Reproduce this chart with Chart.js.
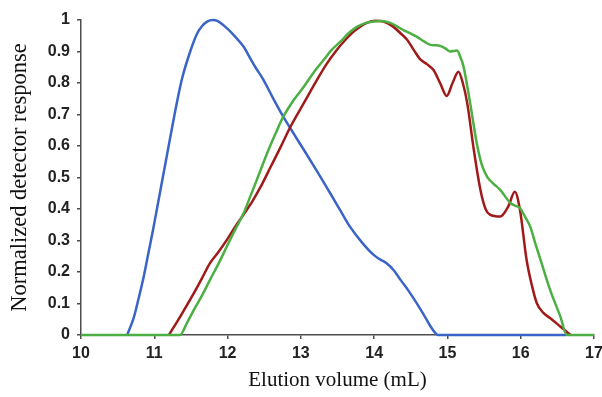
<!DOCTYPE html>
<html>
<head>
<meta charset="utf-8">
<script src="https://cdn.jsdelivr.net/npm/chart.js@4/dist/chart.umd.min.js"></script>
<style>
  body { margin: 0; background: #fff; }
</style>
</head>
<body>
<canvas id="myChart" width="602" height="397"></canvas>
<script>
// elution volume (mL) / normalized response
var blueX = [10.63, 10.72, 10.79, 10.86, 10.92, 10.98, 11.04, 11.10, 11.16, 11.22, 11.31, 11.38, 11.49, 11.58, 11.65, 11.72, 11.80, 11.86, 11.99, 12.10, 12.22, 12.31, 12.38, 12.49, 12.62, 12.76, 12.90, 13.04, 13.22, 13.40, 13.54, 13.67, 13.83, 13.99, 14.08, 14.17, 14.27, 14.36, 14.47, 14.58, 14.68, 14.77, 14.84, 14.87, 16.62];
var blueY = [0, 0.055, 0.12, 0.19, 0.26, 0.33, 0.405, 0.48, 0.555, 0.63, 0.74, 0.815, 0.9, 0.955, 0.98, 0.995, 1.0, 0.997, 0.974, 0.948, 0.915, 0.878, 0.85, 0.81, 0.752, 0.693, 0.64, 0.588, 0.52, 0.45, 0.395, 0.344, 0.295, 0.255, 0.24, 0.228, 0.205, 0.175, 0.14, 0.101, 0.063, 0.027, 0.005, 0, 0];

var redX = [11.20, 11.37, 11.54, 11.65, 11.76, 11.88, 11.99, 12.10, 12.22, 12.34, 12.45, 12.58, 12.72, 12.86, 13.04, 13.22, 13.35, 13.49, 13.60, 13.72, 13.90, 14.02, 14.13, 14.26, 14.36, 14.45, 14.54, 14.63, 14.72, 14.81, 14.90, 14.99, 15.07, 15.15, 15.21, 15.27, 15.36, 15.45, 15.52, 15.58, 15.72, 15.83, 15.92, 15.99, 16.08, 16.15, 16.22, 16.31, 16.40, 16.54, 16.68];
var redY = [0, 0.065, 0.133, 0.18, 0.228, 0.265, 0.302, 0.342, 0.383, 0.425, 0.47, 0.53, 0.595, 0.662, 0.736, 0.81, 0.86, 0.905, 0.935, 0.963, 0.991, 0.998, 0.995, 0.979, 0.958, 0.937, 0.905, 0.875, 0.86, 0.841, 0.80, 0.759, 0.80, 0.836, 0.80, 0.736, 0.588, 0.461, 0.40, 0.382, 0.376, 0.408, 0.455, 0.397, 0.239, 0.16, 0.101, 0.07, 0.054, 0.027, 0];

var greenX = [10.0, 11.35, 11.45, 11.54, 11.65, 11.76, 11.88, 11.99, 12.10, 12.22, 12.31, 12.40, 12.54, 12.65, 12.76, 12.90, 13.04, 13.17, 13.31, 13.42, 13.54, 13.65, 13.77, 13.88, 13.99, 14.10, 14.22, 14.31, 14.40, 14.49, 14.58, 14.68, 14.77, 14.84, 14.90, 14.97, 15.04, 15.13, 15.18, 15.22, 15.31, 15.40, 15.47, 15.54, 15.63, 15.72, 15.86, 15.93, 15.99, 16.06, 16.13, 16.20, 16.27, 16.40, 16.54, 16.63, 17.0];
var greenY = [0, 0, 0.04, 0.08, 0.125, 0.175, 0.228, 0.281, 0.333, 0.387, 0.44, 0.493, 0.577, 0.637, 0.693, 0.745, 0.788, 0.832, 0.873, 0.905, 0.931, 0.958, 0.979, 0.99, 0.995, 0.997, 0.991, 0.98, 0.968, 0.958, 0.947, 0.932, 0.921, 0.92, 0.918, 0.91, 0.90, 0.903, 0.88, 0.852, 0.736, 0.609, 0.54, 0.503, 0.48, 0.461, 0.419, 0.41, 0.403, 0.375, 0.344, 0.29, 0.239, 0.144, 0.059, 0, 0];

var xTitle = 'Elution volume (mL)';
var yTitle = 'Normalized detector response';

function pts(xs, ys) {
  return xs.map(function (x, i) { return { x: x, y: ys[i] }; });
}

var axisColor = '#4d4d4d';
var tickFont = { family: 'Liberation Sans, Arial', size: 16, weight: 'bold' };

var ctx = document.getElementById('myChart');

var myChart = new Chart(ctx, {
  type: 'line',
  data: {
    datasets: [{
      data: pts(greenX, greenY),
      borderColor: '#4caf43',
      order: 0
    }, {
      data: pts(redX, redY),
      borderColor: '#a01a1a',
      order: 1
    }, {
      data: pts(blueX, blueY),
      borderColor: '#3a64c6',
      order: 2
    }]
  },
  options: {
    responsive: false,
    animation: false,
    layout: { padding: { top: 20, right: 8, left: 0, bottom: 0 } },
    elements: {
      point: { radius: 0 },
      line: { borderWidth: 2.5, cubicInterpolationMode: 'monotone', fill: false }
    },
    datasets: { line: { clip: false } },
    plugins: {
      legend: { display: false },
      tooltip: { enabled: false }
    },
    scales: {
      x: {
        type: 'linear',
        min: 10,
        max: 17,
        afterFit: function (s) { s.height = 62; s.paddingRight = 0; s.paddingLeft = 0; },
        ticks: { stepSize: 1, color: '#222', font: tickFont, padding: 5 },
        grid: { display: true, drawOnChartArea: false, drawTicks: true, tickLength: 4, color: axisColor, lineWidth: 1.5 },
        border: { color: axisColor, width: 1.5 },
        title: { display: true, text: xTitle, color: '#111', font: { family: 'Liberation Serif, Times New Roman', size: 21 }, padding: { top: 0, bottom: 4 } }
      },
      y: {
        min: 0,
        max: 1,
        afterFit: function (s) { s.width = 81; s.paddingTop = 0; s.paddingBottom = 0; },
        ticks: {
          stepSize: 0.1, color: '#222', font: tickFont, padding: 7,
          callback: function (v) { return String(+v.toFixed(1)); }
        },
        grid: { display: true, drawOnChartArea: false, drawTicks: true, tickLength: 4, color: axisColor, lineWidth: 1.5 },
        border: { color: axisColor, width: 1.5 },
        title: { display: true, text: yTitle, color: '#111', font: { family: 'Liberation Serif, Times New Roman', size: 22.5 }, padding: { top: 7, bottom: 0 } }
      }
    }
  }
});
</script>
</body>
</html>
